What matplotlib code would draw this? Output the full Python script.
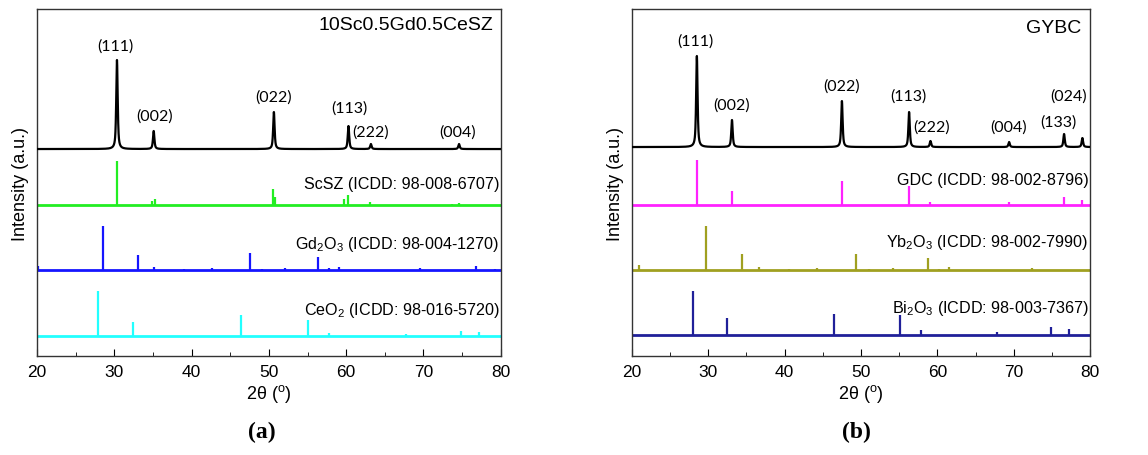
import numpy as np
import matplotlib
matplotlib.use('Agg')
import matplotlib.pyplot as plt

plt.rcParams['font.family'] = ['Liberation Sans', 'DejaVu Sans']
plt.rcParams['mathtext.fontset'] = 'custom'
plt.rcParams['mathtext.rm'] = 'Liberation Sans'
plt.rcParams['mathtext.it'] = 'Liberation Sans:italic'

# ---- panel (a) data: measured pattern peaks (2theta, height above baseline, a.u.)
a_pos = [30.35, 35.1, 50.65, 60.3, 63.2, 74.6]
a_hgt = [89, 18, 37, 23, 5, 5]
a_hkl = ['(111)', '(002)', '(022)', '(113)', '(222)', '(004)']

scsz_pos = [30.3, 34.9, 35.3, 50.5, 50.8, 59.7, 60.3, 63.1, 73.7, 74.6]
scsz_hgt = [44, 4, 6, 16, 8, 6, 10, 3, 1, 2]

gd_pos = [20.1, 28.5, 33.1, 35.1, 39.0, 42.6, 47.5, 49.1, 52.1, 56.4, 57.8, 59.1, 69.5, 76.8, 79.2]
gd_hgt = [4, 44, 15, 3, 1, 2, 17, 1, 2, 13, 2, 3, 2, 4, 1]

ceo2_pos = [27.9, 32.4, 46.4, 55.1, 57.8, 67.8, 74.9, 77.2]
ceo2_hgt = [45, 14, 21, 16, 3, 2, 5, 4]

# ---- panel (b) data
b_pos = [28.5, 33.1, 47.5, 56.3, 59.1, 69.4, 76.6, 79.0]
b_hgt = [91, 27, 46, 35, 6, 5, 13, 9]
b_hkl = ['(111)', '(002)', '(022)', '(113)', '(222)', '(004)', '(133)', '(024)']

gdc_pos = [28.5, 33.1, 47.5, 56.3, 59.1, 69.4, 76.6, 79.0]
gdc_hgt = [45, 14, 24, 19, 3, 3, 8, 5]

yb_pos = [20.9, 29.7, 34.4, 36.6, 40.6, 44.3, 49.3, 51.1, 54.2, 58.8, 60.2, 61.5, 72.4]
yb_hgt = [5, 44, 16, 3, 1, 2, 16, 1, 2, 12, 1, 3, 2]

bi_pos = [28.0, 32.5, 46.5, 55.1, 57.8, 67.8, 74.9, 77.3]
bi_hgt = [44, 17, 21, 20, 5, 3, 8, 6]

# layout (axis units: 0 bottom .. 347 top)
a_base = [207, 151, 86, 20]
b_base = [209, 151, 86, 21]
a_lab_xy = [(30.2, 310), (35.2, 240), (50.6, 259), (60.4, 248), (63.2, 224), (74.4, 224)]
b_lab_xy = [(28.3, 315), (33.1, 251), (47.5, 270), (56.2, 260), (59.2, 229), (69.3, 229), (75.9, 234), (77.2, 260)]


def profile(x, pos, hgt, fwhm=0.22):
    y = np.zeros_like(x)
    g = fwhm / 2
    for p, h in zip(pos, hgt):
        y += h * (0.7 * g**2 / ((x - p)**2 + g**2) + 0.3 * np.exp(-np.log(2) * ((x - p) / g)**2))
    return y


def sticks(ax, pos, hgt, base, color):
    ax.axhline(base, color=color, lw=2, zorder=2)
    ax.vlines(pos, base, np.array(hgt) + base, color=color, lw=1.6, zorder=2)


def setup(ax):
    ax.set_xlim(20, 80)
    ax.set_ylim(0, 347)
    ax.set_yticks([])
    ax.set_xticks(range(20, 81, 10))
    ax.set_xticks(range(25, 80, 10), minor=True)
    ax.tick_params(axis='x', which='major', direction='in', length=5, labelsize=12.5, pad=6)
    ax.tick_params(axis='x', which='minor', direction='in', length=3)
    ax.tick_params(top=False)
    for s in ax.spines.values():
        s.set_color('#333333')
        s.set_linewidth(1)
    ax.set_xlabel(r'2θ ($^{\mathrm{o}}$)', fontsize=13, labelpad=2)
    ax.set_ylabel('Intensity (a.u.)', fontsize=13, labelpad=6)


fig = plt.figure(figsize=(11.48, 4.56), dpi=100)
ax1 = fig.add_axes([0.0322, 0.217, 0.404, 0.761])
ax2 = fig.add_axes([0.5505, 0.217, 0.399, 0.761])

x = np.arange(20, 80.001, 0.01)

# (a)
ax1.plot(x, profile(x, a_pos, a_hgt) + a_base[0], color='black', lw=1.6, zorder=3)
sticks(ax1, scsz_pos, scsz_hgt, a_base[1], '#22ee22')
sticks(ax1, gd_pos, gd_hgt, a_base[2], '#1515ff')
sticks(ax1, ceo2_pos, ceo2_hgt, a_base[3], '#22ffff')
for t, (px, py) in zip(a_hkl, a_lab_xy):
    ax1.text(px, py, t, fontsize=11.5, family='Lato', ha='center', va='center')
ax1.text(79, 332, '10Sc0.5Gd0.5CeSZ', fontsize=14, ha='right', va='center')
ax1.text(79.8, 173, 'ScSZ (ICDD: 98-008-6707)', fontsize=11.6, ha='right', va='center')
ax1.text(79.8, 113, r'Gd$_2$O$_3$ (ICDD: 98-004-1270)', fontsize=11.6, ha='right', va='center')
ax1.text(79.8, 47, r'CeO$_2$ (ICDD: 98-016-5720)', fontsize=11.6, ha='right', va='center')
setup(ax1)

# (b)
ax2.plot(x, profile(x, b_pos, b_hgt) + b_base[0], color='black', lw=1.6, zorder=3)
sticks(ax2, gdc_pos, gdc_hgt, b_base[1], '#ff22ff')
sticks(ax2, yb_pos, yb_hgt, b_base[2], '#a0a020')
sticks(ax2, bi_pos, bi_hgt, b_base[3], '#202099')
for t, (px, py) in zip(b_hkl, b_lab_xy):
    ax2.text(px, py, t, fontsize=11.5, family='Lato', ha='center', va='center')
ax2.text(78.9, 329, 'GYBC', fontsize=14, ha='right', va='center')
ax2.text(79.8, 177, 'GDC (ICDD: 98-002-8796)', fontsize=11.6, ha='right', va='center')
ax2.text(79.8, 115, r'Yb$_2$O$_3$ (ICDD: 98-002-7990)', fontsize=11.6, ha='right', va='center')
ax2.text(79.8, 49, r'Bi$_2$O$_3$ (ICDD: 98-003-7367)', fontsize=11.6, ha='right', va='center')
setup(ax2)

fig.text(262 / 1148, 1 - 432 / 456, '(a)', fontsize=17, fontweight='bold',
         family='Liberation Serif', ha='center', va='center')
fig.text(856 / 1148, 1 - 432 / 456, '(b)', fontsize=17, fontweight='bold',
         family='Liberation Serif', ha='center', va='center')

fig.savefig('out.png', dpi=100)
